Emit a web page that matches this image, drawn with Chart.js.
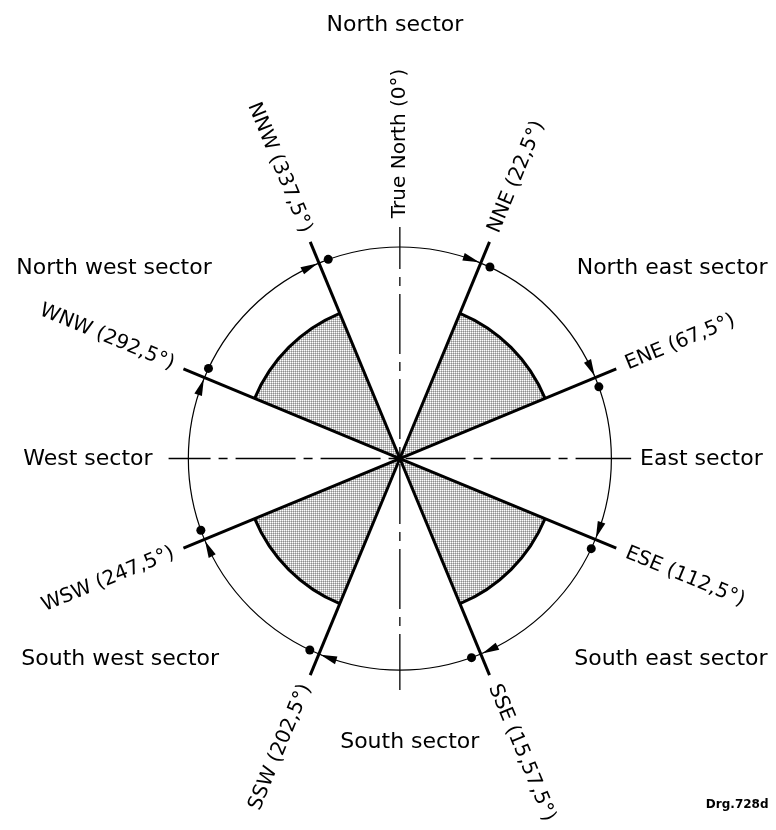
<!DOCTYPE html>
<html>
<head>
<meta charset="utf-8">
<script src="https://cdn.jsdelivr.net/npm/chart.js@4.4.0/dist/chart.umd.min.js"></script>
<style>
  html, body { margin: 0; padding: 0; background: #ffffff; }
  #wrap { width: 776px; height: 830px; }
</style>
</head>
<body>
<div id="wrap"><canvas id="rose" width="776" height="830"></canvas></div>
<script>
// ==========================================
// DATA
// ==========================================

// sector boundary lines, degrees clockwise from north
const boundaryBearings = [22.5, 67.5, 112.5, 157.5, 202.5, 247.5, 292.5, 337.5];
const boundaryLabels = ["NNE (22,5°)", "ENE (67,5°)", "ESE (112,5°)", "SSE (15,57,5°)",
                        "SSW (202,5°)", "WSW (247,5°)", "WNW (292,5°)", "NNW (337,5°)"];

// shaded (diagonal) sectors
const shadedStart = [22.5, 112.5, 202.5, 292.5];
const shadedEnd = [67.5, 157.5, 247.5, 337.5];

// sector names, N first then clockwise
const sectorNames = ["North sector", "North east sector", "East sector", "South east sector",
                     "South sector", "South west sector", "West sector", "North west sector"];

const northLabel = "True North (0°)";
const drawingNo = "Drg.728d";

// radii in drawing units
const circleRadius = 214;
const shadedRadius = 159;
const lineLength = 237;
const axisLength = 234;
const dotOffset = 2.7; // degrees past each boundary

// ==========================================
// HELPERS
// ==========================================

const rad = (d) => (d * Math.PI) / 180;
// bearing -> chart coords (y up)
const polar = (b, r) => ({ x: r * Math.sin(rad(b)), y: r * Math.cos(rad(b)) });

const lineSets = boundaryBearings.map((b) => ({
  data: [polar(b, 0), polar(b, lineLength)],
  showLine: true,
  borderColor: "#000",
  borderWidth: 3,
  pointRadius: 0,
  borderCapStyle: "butt",
}));

const axisSets = [
  [{ x: 0, y: axisLength }, { x: 0, y: -axisLength }],
  [{ x: -axisLength, y: 0 }, { x: axisLength, y: 0 }],
].map((pts) => ({
  data: pts,
  showLine: true,
  borderColor: "#000",
  borderWidth: 1.3,
  borderDash: [60, 8, 9, 8],
  borderDashOffset: 18,
  pointRadius: 0,
}));

const dotSet = {
  data: boundaryBearings.map((b) => polar(b + dotOffset, circleRadius)),
  pointRadius: 4.5,
  pointBackgroundColor: "#000",
  pointBorderWidth: 0,
  showLine: false,
};

let dotPattern;
function getPattern(ctx) {
  if (dotPattern) return dotPattern;
  const c = document.createElement("canvas");
  c.width = 2;
  c.height = 2;
  const p = c.getContext("2d");
  p.fillStyle = "#ffffff"; p.fillRect(0, 0, 1, 1);
  p.fillStyle = "#c4c4c4"; p.fillRect(1, 0, 1, 1); p.fillRect(0, 1, 1, 1);
  p.fillStyle = "#8e8e8e"; p.fillRect(1, 1, 1, 1);
  dotPattern = ctx.createPattern(c, "repeat");
  return dotPattern;
}

// ==========================================
// PLUGIN: sectors, circle, arrows, labels
// ==========================================

const roseDrawing = {
  id: "roseDrawing",
  beforeDatasetsDraw(chart) {
    const { ctx, scales: { x, y } } = chart;
    const cx = x.getPixelForValue(0);
    const cy = y.getPixelForValue(0);
    const px = (r) => x.getPixelForValue(r) - cx;
    const ang = (b) => rad(b - 90);

    ctx.save();
    // shaded sectors
    shadedStart.forEach((s, i) => {
      ctx.beginPath();
      ctx.moveTo(cx, cy);
      ctx.arc(cx, cy, px(shadedRadius), ang(s), ang(shadedEnd[i]));
      ctx.closePath();
      ctx.fillStyle = getPattern(ctx);
      ctx.fill();
      ctx.beginPath();
      ctx.arc(cx, cy, px(shadedRadius), ang(s), ang(shadedEnd[i]));
      ctx.lineWidth = 3;
      ctx.strokeStyle = "#000";
      ctx.stroke();
    });

    // outer circle
    ctx.beginPath();
    ctx.arc(cx, cy, px(circleRadius), 0, Math.PI * 2);
    ctx.lineWidth = 1.2;
    ctx.strokeStyle = "#000";
    ctx.stroke();
    ctx.restore();
  },

  afterDatasetsDraw(chart) {
    const { ctx, scales: { x, y } } = chart;
    const toPx = (p) => ({ x: x.getPixelForValue(p.x), y: y.getPixelForValue(p.y) });
    const R = circleRadius;

    ctx.save();
    // arrowheads arriving at each boundary, clockwise
    ctx.fillStyle = "#000";
    boundaryBearings.forEach((b) => {
      const tipB = b - (1.6 / R) * (180 / Math.PI);
      const baseB = tipB - (17 / R) * (180 / Math.PI);
      const tip = toPx(polar(tipB, R));
      const b1 = toPx(polar(baseB, R + 4));
      const b2 = toPx(polar(baseB, R - 4));
      ctx.beginPath();
      ctx.moveTo(tip.x, tip.y);
      ctx.lineTo(b1.x, b1.y);
      ctx.lineTo(b2.x, b2.y);
      ctx.closePath();
      ctx.fill();
    });

    // labels along the boundary lines
    ctx.font = "20px 'DejaVu Sans'";
    ctx.textBaseline = "middle";
    const labelAlong = (b, text, r) => {
      const p = toPx(polar(b, r));
      ctx.save();
      ctx.translate(p.x, p.y);
      if (b <= 180) {
        ctx.rotate(rad(b - 90));
        ctx.textAlign = "left";
      } else {
        ctx.rotate(rad(b - 270));
        ctx.textAlign = "right";
      }
      ctx.fillText(text, 0, 0);
      ctx.restore();
    };
    boundaryBearings.forEach((b, i) => labelAlong(b, boundaryLabels[i], 248));
    labelAlong(0, northLabel, 243);

    // sector names
    ctx.font = "22px 'DejaVu Sans'";
    ctx.textBaseline = "alphabetic";
    const place = [
      { x: -5, y: 432, align: "center" },
      { x: 372, y: 187, align: "right" },
      { x: 243, y: -7, align: "left" },
      { x: 372, y: -209, align: "right" },
      { x: 10, y: -293, align: "center" },
      { x: -383, y: -209, align: "left" },
      { x: -381, y: -7, align: "left" },
      { x: -388, y: 187, align: "left" },
    ];
    sectorNames.forEach((name, i) => {
      const p = toPx(place[i]);
      ctx.textAlign = place[i].align;
      ctx.fillText(name, p.x, p.y);
    });

    ctx.font = "bold 12px 'DejaVu Sans'";
    ctx.textAlign = "right";
    const d = toPx({ x: 373, y: -353 });
    ctx.fillText(drawingNo, d.x, d.y);
    ctx.restore();
  },
};

// ==========================================
// CHART
// ==========================================

new Chart(document.getElementById("rose"), {
  type: "scatter",
  data: { datasets: [dotSet, ...lineSets, ...axisSets] },
  options: {
    responsive: false,
    animation: false,
    layout: { padding: 0 },
    plugins: { legend: { display: false }, tooltip: { enabled: false } },
    scales: {
      x: { type: "linear", min: -400, max: 376, display: false },
      y: { type: "linear", min: -371, max: 459, display: false },
    },
  },
  plugins: [roseDrawing],
});
</script>
</body>
</html>
